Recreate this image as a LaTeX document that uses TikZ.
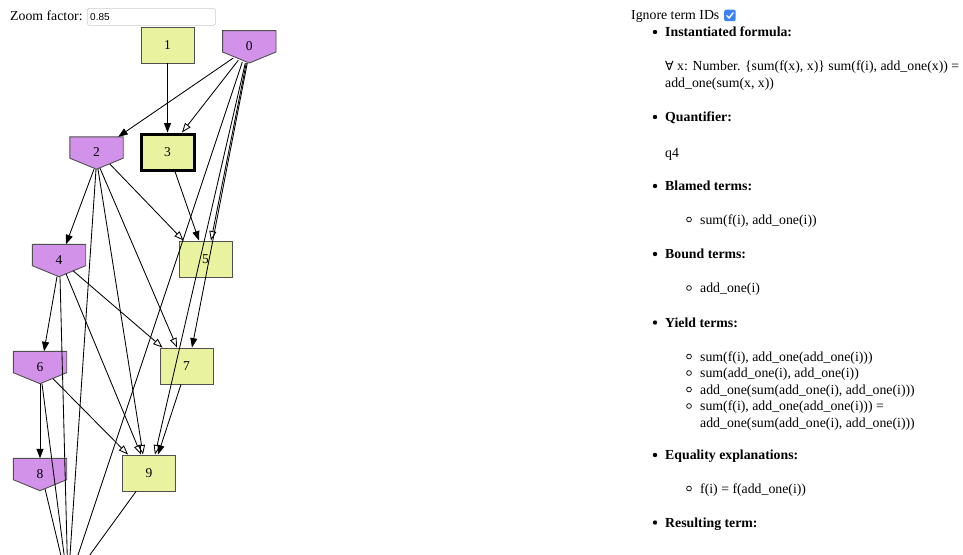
\documentclass[tikz,border=0pt]{standalone}
\usepackage{fontspec}
\setmainfont{Liberation Serif}
\newfontfamily\uisans{Liberation Sans}
\newfontfamily\symfont{DejaVu Sans}
\usetikzlibrary{arrows.meta,calc,backgrounds}
\definecolor{nodeviolet}{RGB}{210,146,234}
\definecolor{nodeyellow}{RGB}{233,242,158}
\definecolor{nodeedge}{RGB}{80,80,80}
\definecolor{boxgray}{RGB}{205,205,205}
\definecolor{checkblue}{RGB}{59,130,246}
\begin{document}
\begin{tikzpicture}[x=1pt,y=-1pt,
  term/.style={draw=nodeedge, line width=0.9pt, fill=nodeyellow, minimum width=53pt,
    minimum height=36pt, inner sep=0pt, font=\fontsize{13.5}{15}\selectfont},
  quant/.style={minimum width=53pt, minimum height=32pt, inner sep=0pt,
    font=\fontsize{13.5}{15}\selectfont},
  quantshape/.style={fill=nodeviolet, draw=nodeedge, line width=0.9pt},
  hit/.style={line width=0.85pt, -{Triangle[length=9.5pt,width=7pt]}},
  hollow/.style={line width=0.85pt, -{Triangle[open,length=9.5pt,width=7pt]}},
  plain/.style={line width=0.85pt},
  body/.style={anchor=base west, inner sep=0pt, font=\fontsize{13.8}{16.5}\selectfont},
  head/.style={anchor=base west, inner sep=0pt, font=\fontsize{13.8}{16.5}\selectfont\bfseries},
  dot/.style={fill=black},
  ring/.style={draw=black, line width=0.7pt},
]
\useasboundingbox (0,0) rectangle (963,554);
\clip (0,0) rectangle (963,554);

% ---- controls above the graph ----
\node[body] (zoomlbl) at (10,20.5) {Zoom factor:};
\node[draw=boxgray, line width=0.6pt, rounded corners=1.5pt, minimum width=128pt,
  minimum height=17pt, anchor=north west, inner sep=0pt] (zoombox) at (87,8) {};
\node[anchor=base west, inner sep=0pt, font=\uisans\fontsize{10}{12}\selectfont]
  (zoomval) at (90,20) {0.85};

% ---- graph nodes ----
\node[term] (n1) at (167.5,45) {1};
\node[quant] (n0) at (249.3,46.8) {\raisebox{1.5pt}{0}};
\node[quant] (n2) at (96.5,153) {\raisebox{1.5pt}{2}};
\node[term, draw=black, line width=3pt] (n3) at (167.5,152) {3};
\node[quant] (n4) at (59,260.5) {\raisebox{1.5pt}{4}};
\node[term] (n5) at (205.5,259) {5};
\node[quant] (n6) at (40,367.5) {\raisebox{1.5pt}{6}};
\node[term] (n7) at (186.5,366) {7};
\node[quant] (n8) at (40,474.5) {\raisebox{1.5pt}{8}};
\node[term] (n9) at (149,473) {9};
\coordinate (bot) at (68,585);

% quantifier nodes are drawn as downward-pointing pentagons
\begin{scope}[on background layer]
\foreach \q in {n0,n2,n4,n6,n8}
  \filldraw[quantshape] (\q.north west) -- (\q.north east)
    -- ($(\q.south east)+(0,-11)$) -- (\q.south)
    -- ($(\q.south west)+(0,-11)$) -- cycle;
\end{scope}

% ---- graph edges ----
\draw[hit]    ($(n0.south)+(-16,-5)$)   -- ($(n2.north east)+(-5,0)$);
\draw[hollow] ($(n0.south)+(-11,-2.7)$) -- ($(n3.north)+(14.5,0)$);
\draw[hit]    (n1.south) -- (n3.north);
\draw[hollow] ($(n0.south)+(-3,0)$) -- ($(n5.north)+(5.5,0)$);
\draw[hit]    ($(n0.south)+(-2,0)$) -- ($(n7.north)+(5.5,0)$);
\draw[hollow] ($(n0.south)+(-4,0)$) -- ($(n9.north)+(6,0)$);
\draw[plain]  ($(n0.south)+(-7,-1)$) -- (bot);
\draw[hit]    ($(n3.south)+(7.5,0)$) -- ($(n5.north)+(-6.5,0)$);
\draw[hit]    ($(n2.south)+(-2.5,0)$) -- ($(n4.north)+(7,0)$);
\draw[hollow] ($(n2.south)+(13.5,-5)$) -- ($(n5.north west)+(5,0)$);
\draw[hollow] ($(n2.south)+(3.5,-1)$) -- ($(n7.north)+(-9.5,0)$);
\draw[hollow] ($(n2.south)+(1.5,0)$) -- ($(n9.north)+(-6,0)$);
\draw[plain]  ($(n2.south)+(-0.5,0)$) -- (bot);
\draw[hit]    ($(n4.south)+(-2,0)$) -- ($(n6.north)+(4,0)$);
\draw[hollow] ($(n4.south)+(14,-6)$) -- ($(n7.north west)+(3,0)$);
\draw[hollow] ($(n4.south)+(7,-3)$) -- ($(n9.north)+(-8,0)$);
\draw[plain]  ($(n4.south)+(1,0)$) -- (bot);
\draw[hit]    (n6.south) -- (n8.north);
\draw[hollow] ($(n6.south)+(13,-5)$) -- ($(n9.north west)+(6,0)$);
\draw[plain]  ($(n6.south)+(2,0)$) -- (bot);
\draw[hit]    ($(n7.south)+(-5.5,0)$) -- ($(n9.north)+(9,0)$);
\draw[plain]  ($(n8.south)+(5,-2)$) -- (bot);
\draw[plain]  ($(n9.south)+(-13,0)$) -- (bot);

% ---- details panel ----
\node[body] (ignorelbl) at (631,19.5) {Ignore term IDs};
\node[fill=checkblue, rounded corners=2pt, minimum size=11.5pt, inner sep=0pt,
  anchor=north west] (ignorebox) at (724,9.5) {};
\draw[white, line width=1.4pt, line cap=round, line join=round]
  ($(ignorebox.center)+(-3,0.3)$) -- ($(ignorebox.center)+(-0.9,2.6)$)
  -- ($(ignorebox.center)+(3.1,-2.6)$);

\fill[dot] (655,32) circle[radius=2.2pt];
\node[head] (h1) at (665,36.5) {Instantiated formula:};
\node[body] (formula1) at (665,70.5) {{\symfont\fontsize{12.5}{15}\selectfont ∀} x: Number. \{sum(f(x), x)\} sum(f(i), add\_one(x)) =};
\node[body] (formula2) at (665,87) {add\_one(sum(x, x))};

\fill[dot] (655,117) circle[radius=2.2pt];
\node[head] (h2) at (665,121.5) {Quantifier:};
\node[body] (quantname) at (665,157) {q4};

\fill[dot] (655,186) circle[radius=2.2pt];
\node[head] (h3) at (665,190.5) {Blamed terms:};
\draw[ring] (689,219.5) circle[radius=2.4pt];
\node[body] (blamed1) at (700,224) {sum(f(i), add\_one(i))};

\fill[dot] (655,254) circle[radius=2.2pt];
\node[head] (h4) at (665,258.5) {Bound terms:};
\draw[ring] (689,288) circle[radius=2.4pt];
\node[body] (bound1) at (700,292.5) {add\_one(i)};

\fill[dot] (655,322.5) circle[radius=2.2pt];
\node[head] (h5) at (665,327) {Yield terms:};
\draw[ring] (689,356.5) circle[radius=2.4pt];
\node[body] (yield1) at (700,361) {sum(f(i), add\_one(add\_one(i)))};
\draw[ring] (689,373) circle[radius=2.4pt];
\node[body] (yield2) at (700,377.5) {sum(add\_one(i), add\_one(i))};
\draw[ring] (689,389.5) circle[radius=2.4pt];
\node[body] (yield3) at (700,394) {add\_one(sum(add\_one(i), add\_one(i)))};
\draw[ring] (689,406) circle[radius=2.4pt];
\node[body] (yield4a) at (700,410.5) {sum(f(i), add\_one(add\_one(i))) =};
\node[body] (yield4b) at (700,427) {add\_one(sum(add\_one(i), add\_one(i)))};

\fill[dot] (655,455) circle[radius=2.2pt];
\node[head] (h6) at (665,459.5) {Equality explanations:};
\draw[ring] (689,488.5) circle[radius=2.4pt];
\node[body] (eq1) at (700,493) {f(i) = f(add\_one(i))};

\fill[dot] (655,522.5) circle[radius=2.2pt];
\node[head] (h7) at (665,527) {Resulting term:};
\end{tikzpicture}
\end{document}
